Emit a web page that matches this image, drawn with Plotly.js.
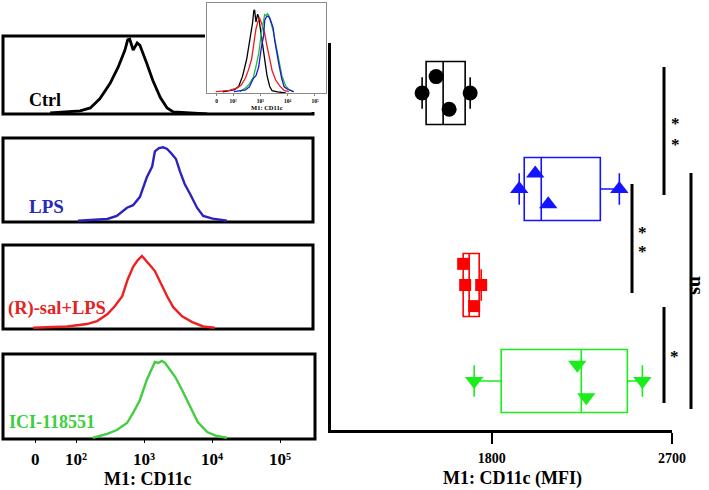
<!DOCTYPE html>
<html>
<head>
<meta charset="utf-8">
<script src="https://cdn.plot.ly/plotly-3.0.1.min.js"></script>
<style>html,body{margin:0;padding:0;background:#fff}#chart{width:709px;height:490px}</style>
</head>
<body>
<div id="chart"></div>
<script>
// ---------------- DATA ----------------
const groupNames = ['Ctrl', 'LPS', '(R)-sal+LPS', 'ICI-118551'];

// flow histograms: x = log10(M1: CD11c fluorescence), y = % of max count
const ctrlL = [1.62,2.06,2.21,2.35,2.50,2.62,2.72,2.76,2.79,2.84,2.90,2.94,3.04,3.13,3.24,3.34,3.43,3.63,3.93];
const ctrlH = [1.3,3.9,7.8,19.5,39,60,82,95,96,82,91,88,65,43,21,7.8,2.6,1.3,0];
const lpsL  = [2.03,2.46,2.60,2.75,2.84,2.94,3.04,3.12,3.16,3.22,3.28,3.34,3.41,3.47,3.53,3.60,3.68,3.78,3.87,4.01,4.22];
const lpsH  = [1.5,3.6,7.2,17,20,30,53,66,84,88,89,87,81,75,60,45,33,17,7.2,4.0,1.5];
const rsalL = [1.37,1.87,2.16,2.31,2.46,2.57,2.68,2.76,2.84,2.91,2.97,3.04,3.12,3.16,3.24,3.34,3.43,3.56,3.71,3.87,4.04];
const rsalH = [1.5,3.0,5.9,9.4,17.6,27,39,59,74,82,87,81,73,69,55,39,26,15,8.2,3.0,1.5];
const iciL  = [2.25,2.46,2.60,2.75,2.84,2.94,3.04,3.12,3.16,3.21,3.26,3.31,3.38,3.46,3.56,3.68,3.79,3.93,4.07,4.22];
const iciH  = [1.5,5.9,10.6,18.8,30.6,45.9,69.4,83.5,90.6,89.4,91.8,89.4,81.2,72.9,57.6,37.6,20,8.2,3.5,1.5];

const histTickVals = [1.4, 2, 3, 4, 5];
const histTickText = ['0', '10²', '10³', '10⁴', '10⁵'];

// MFI per sample (order: whisker-low, upper point, lower point, whisker-high)
const ctrlPts = [1452, 1522, 1587, 1692];
const lpsPts  = [1937, 2017, 2082, 2437];
const rsalPts = [1667, 1657, 1712, 1747];
const iciPts  = [1712, 2227, 2272, 2552];

// box statistics, order = groupNames
const boxLow    = [1452, 1937, 1657, 1712];
const boxQ1     = [1472, 1962, 1657, 1847];
const boxMedian = [1557, 2047, 1687, 2247];
const boxQ3     = [1667, 2342, 1737, 2477];
const boxHigh   = [1692, 2437, 1747, 2552];

const mfiTickVals = [1800, 2700];

// ---------------- LAYOUT HELPERS ----------------
const W = 709, H = 490;
const X = p => p / W;
const Y = p => 1 - p / H;
const SERIF = 'Liberation Serif, Times New Roman, serif';
const bold = (size, color) => ({family: SERIF, size: size, color: color || '#000', weight: 'bold'});

const histColors = ['#000000', '#2b22c0', '#ee2020', '#44cc44'];
const labelColors = ['#000000', '#2a2ab8', '#e52222', '#3ccf3c'];
const insetColors = ['#000000', '#1a1ad0', '#ee1a1a', '#22bb44'];
const boxColors = ['#000000', '#1414ff', '#ff0000', '#1aee1a'];
const symbols = ['circle', 'triangle-up', 'square', 'triangle-down'];
const symSize = [15, 16, 12, 16];
const spread = [0.17, 0.16, 0.22, 0.17];
const rowOf = [4, 3, 2, 1];
const offsetPattern = [0, 1, -1, 0];

const histL = [ctrlL, lpsL, rsalL, iciL];
const histH = [ctrlH, lpsH, rsalH, iciH];
const pts = [ctrlPts, lpsPts, rsalPts, iciPts];

// frames (px): [x0, x1, top, bottom]
const frames = [[3,313,36,114],[3,313,138,222],[3,313,245,329],[3,315,354,439]];

const traces = [];
// main histograms
for (let i = 0; i < 4; i++) {
  const ax = i === 0 ? '' : String(i + 1);
  traces.push({
    type: 'scatter', mode: 'lines', x: histL[i], y: histH[i],
    xaxis: 'x' + ax, yaxis: 'y' + ax,
    line: {color: histColors[i], width: i === 0 ? 2.8 : 2.4, shape: 'linear'},
    hoverinfo: 'skip'
  });
}
// inset overlay (draw order: ctrl, rsal, ici, lps)
[0, 2, 3, 1].forEach(i => {
  traces.push({
    type: 'scatter', mode: 'lines', x: histL[i], y: histH[i],
    xaxis: 'x5', yaxis: 'y5',
    line: {color: insetColors[i], width: 1.3},
    hoverinfo: 'skip'
  });
});
// right panel boxes + points
for (let i = 0; i < 4; i++) {
  traces.push({
    type: 'box', orientation: 'h', y: [rowOf[i]],
    q1: [boxQ1[i]], median: [boxMedian[i]], q3: [boxQ3[i]],
    lowerfence: [boxLow[i]], upperfence: [boxHigh[i]],
    width: 0.656, whiskerwidth: 0.5,
    line: {color: boxColors[i], width: 1.6},
    fillcolor: 'rgba(0,0,0,0)',
    boxpoints: false,
    xaxis: 'x6', yaxis: 'y6', hoverinfo: 'skip'
  });
  traces.push({
    type: 'scatter', mode: 'markers',
    x: pts[i], y: pts[i].map((v, k) => rowOf[i] + offsetPattern[k] * spread[i]),
    marker: {symbol: symbols[i], size: symSize[i], color: boxColors[i], line: {width: 0}},
    xaxis: 'x6', yaxis: 'y6', hoverinfo: 'skip'
  });
}

const hidden = {visible: false, showgrid: false, zeroline: false};
const histRange = [2 + (3 - 76) / 68, 2 + (313 - 76) / 68];
const layout = {
  width: W, height: H,
  margin: {l: 0, r: 0, t: 0, b: 0, pad: 0},
  paper_bgcolor: '#ffffff', plot_bgcolor: 'rgba(0,0,0,0)',
  showlegend: false,
  xaxis:  Object.assign({domain: [X(3), X(313)], range: histRange, anchor: 'y'}, hidden),
  yaxis:  Object.assign({domain: [Y(114), Y(36)], range: [0, 100], anchor: 'x'}, hidden),
  xaxis2: Object.assign({domain: [X(3), X(313)], range: histRange, anchor: 'y2'}, hidden),
  yaxis2: Object.assign({domain: [Y(222), Y(138)], range: [0, 100], anchor: 'x2'}, hidden),
  xaxis3: Object.assign({domain: [X(3), X(313)], range: histRange, anchor: 'y3'}, hidden),
  yaxis3: Object.assign({domain: [Y(329), Y(245)], range: [0, 100], anchor: 'x3'}, hidden),
  xaxis4: {domain: [X(3), X(313)], range: histRange, anchor: 'y4',
           showgrid: false, zeroline: false, showline: false,
           tickmode: 'array', tickvals: histTickVals, ticktext: histTickText,
           ticks: 'outside', ticklen: 3, tickwidth: 1, tickcolor: '#000',
           ticklabelstandoff: 2, tickfont: bold(17)},
  yaxis4: Object.assign({domain: [Y(439), Y(354)], range: [0, 100], anchor: 'x4'}, hidden),
  xaxis5: {domain: [X(207), X(326)], range: [2 - 26 / 27.33, 2 + 93 / 27.33], anchor: 'y5',
           showgrid: false, zeroline: false, showline: true, mirror: true, linecolor: '#8a8a8a', linewidth: 1,
           tickmode: 'array', tickvals: histTickVals, ticktext: histTickText,
           ticks: 'outside', ticklen: 2, tickwidth: 0.8, tickcolor: '#666',
           ticklabelstandoff: 0, tickfont: bold(5.5)},
  yaxis5: {domain: [Y(93), Y(3)], range: [0, 104], anchor: 'x5',
           showgrid: false, zeroline: false, showline: true, mirror: true, linecolor: '#8a8a8a', linewidth: 1,
           showticklabels: false, ticks: ''},
  xaxis6: {domain: [X(331), X(672)], range: [997, 2700], anchor: 'y6',
           showgrid: false, zeroline: false, showline: true, linecolor: '#000', linewidth: 2.6,
           tickmode: 'array', tickvals: mfiTickVals, ticktext: mfiTickVals.map(String),
           ticks: 'outside', ticklen: 11, tickwidth: 2.4, tickcolor: '#000',
           ticklabelstandoff: 3, tickfont: bold(14)},
  yaxis6: {domain: [Y(430), Y(43)], range: [0.49, 4.52], anchor: 'x6',
           showgrid: false, zeroline: false, showline: true, linecolor: '#000', linewidth: 2.6,
           showticklabels: false, ticks: ''},
  shapes: [],
  annotations: []
};

// histogram frames
frames.forEach(f => {
  layout.shapes.push({type: 'rect', xref: 'paper', yref: 'paper', layer: 'below',
    x0: X(f[0]), x1: X(f[1]), y0: Y(f[3]), y1: Y(f[2]),
    line: {color: '#000', width: 3}, fillcolor: 'rgba(0,0,0,0)'});
});
// white backing of inset
layout.shapes.push({type: 'rect', xref: 'paper', yref: 'paper', layer: 'below',
  x0: X(205), x1: X(329), y0: Y(112), y1: Y(0), line: {width: 0}, fillcolor: '#ffffff'});

// significance bars [x, yTop, yBottom]
[[664, 67, 195], [632, 184, 293], [691, 173, 409], [664, 307, 403]].forEach(b => {
  layout.shapes.push({type: 'line', xref: 'paper', yref: 'paper',
    x0: X(b[0]), x1: X(b[0]), y0: Y(b[1]), y1: Y(b[2]), line: {color: '#000', width: 3}});
});

const ann = (text, px, py, font, extra) => layout.annotations.push(Object.assign({
  text: text, xref: 'paper', yref: 'paper', x: X(px), y: Y(py), showarrow: false,
  xanchor: 'center', yanchor: 'middle', font: font}, extra || {}));

// group labels
ann(groupNames[0], 27, 100, bold(18, labelColors[0]), {xanchor: 'left'});
ann(groupNames[1], 27, 207, bold(19, labelColors[1]), {xanchor: 'left'});
ann(groupNames[2], 6, 308, bold(18.5, labelColors[2]), {xanchor: 'left'});
ann(groupNames[3], 7, 422, bold(18, labelColors[3]), {xanchor: 'left'});

// axis titles
ann('M1: CD11c', 147, 479, bold(18));
ann('M1: CD11c (MFI)', 512, 478, bold(18));
ann('M1: CD11c', 267, 108, bold(6.5), {borderpad: 0});

// significance marks
ann('*', 675, 124, bold(17));
ann('*', 675, 144, bold(17));
ann('*', 642, 233, bold(17));
ann('*', 642, 251, bold(17));
ann('*', 674, 356, bold(17));
ann('ns', 697, 285, bold(20), {textangle: 90, borderpad: 0});

Plotly.newPlot('chart', traces, layout, {staticPlot: true, displayModeBar: false});
</script>
</body>
</html>
